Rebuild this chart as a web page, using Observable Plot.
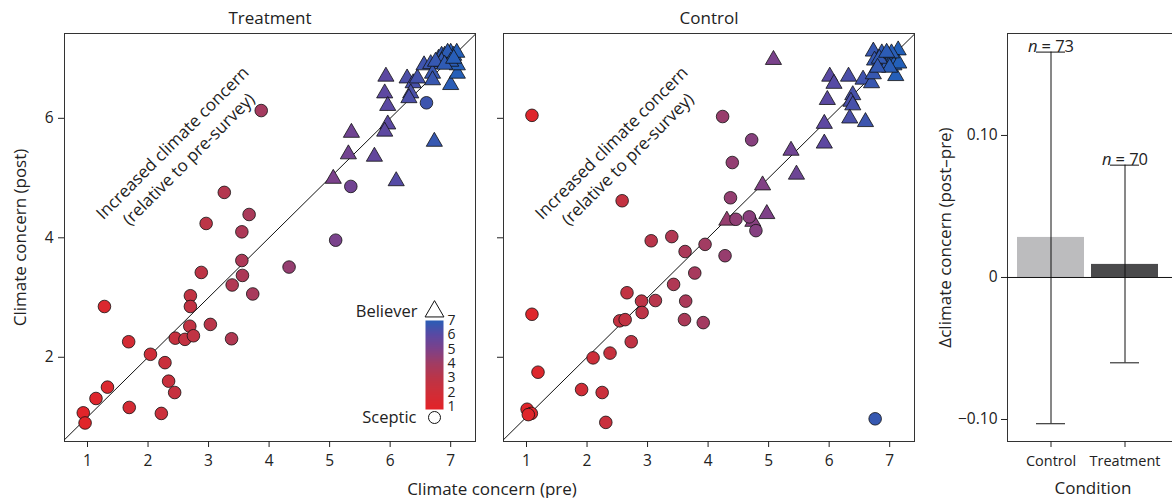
<!DOCTYPE html>
<html><head><meta charset="utf-8">
<script src="https://cdn.jsdelivr.net/npm/d3@7"></script>
<script src="https://cdn.jsdelivr.net/npm/@observablehq/plot@0.6"></script>
<style>
body{margin:0;background:#fff;}
#root{position:relative;width:1172px;height:498px;overflow:hidden;font-family:"Open Sans",sans-serif;color:#222;}
.p{position:absolute;top:0;}
.lbl{position:absolute;font-size:17px;transform:translate(-50%,-50%);white-space:nowrap;color:#222;}
</style></head><body><div id="root"></div>
<script>
// ---------- Data ----------
const treatmentScepticPre  = [3.26,3.67,2.96,3.55,3.55,2.88,3.56,3.39,3.73,2.70,2.70,1.28,2.69,3.03,1.68,2.45,2.61,2.75,3.38,2.04,2.28,2.34,2.44,1.33,1.14,1.69,2.22,0.93,0.96,3.87,5.35,5.10,4.33,6.60];
const treatmentScepticPost = [4.76,4.39,4.24,4.10,3.62,3.42,3.37,3.21,3.06,3.03,2.85,2.85,2.52,2.55,2.26,2.32,2.30,2.36,2.31,2.05,1.91,1.60,1.41,1.50,1.31,1.16,1.06,1.07,0.90,6.13,4.86,3.96,3.51,6.26];
const treatmentBelieverPre  = [5.93,5.91,5.96,5.96,5.91,5.36,6.28,6.38,6.34,6.31,6.45,6.56,6.67,6.70,6.70,7.00,7.11,7.11,6.73,5.31,5.74,5.06,6.10,6.80,6.85,6.90,6.95,7.00,7.05,7.10,6.95,7.00,6.85,6.75,6.90,7.05];
const treatmentBelieverPost = [6.70,6.42,6.21,5.90,5.78,5.76,6.67,6.59,6.42,6.34,6.67,6.89,6.91,6.75,6.64,6.56,6.75,6.89,5.61,5.40,5.36,4.99,4.95,7.00,7.05,7.05,7.00,7.10,7.05,7.10,7.10,6.95,6.95,6.95,6.90,7.00];

const controlScepticPre  = [1.09,4.24,4.72,4.40,2.58,4.37,4.46,4.68,4.79,3.06,3.40,3.95,3.62,4.28,3.78,3.43,2.66,2.90,3.13,3.63,2.91,2.54,2.63,3.61,3.92,1.09,2.73,2.38,2.10,1.19,1.91,2.25,1.01,1.08,1.03,2.31,6.76];
const controlScepticPost = [6.05,6.03,5.64,5.26,4.62,4.67,4.31,4.35,4.12,3.95,4.02,3.89,3.77,3.70,3.41,3.22,3.08,2.94,2.95,2.94,2.75,2.61,2.63,2.63,2.58,2.72,2.26,2.07,1.99,1.75,1.46,1.41,1.13,1.06,1.04,0.91,0.97];
const controlBelieverPre  = [5.08,6.01,6.08,5.97,5.92,5.92,5.37,5.46,4.90,4.31,4.97,4.74,6.32,6.56,6.70,6.73,6.39,6.36,6.39,6.34,6.60,7.10,6.73,6.87,6.98,7.14,7.03,6.89,6.75,7.07,7.15,6.83,7.03,6.95,7.00,6.80];
const controlBelieverPost = [6.98,6.70,6.58,6.31,5.91,5.58,5.46,5.06,4.88,4.29,4.40,4.27,6.70,6.65,6.59,6.74,6.39,6.28,6.22,6.00,5.94,6.71,7.12,7.09,7.03,7.14,6.95,6.92,6.97,6.89,6.92,7.00,7.09,7.10,6.85,6.85];

const scaleTicks = [1,2,3,4,5,6,7];
const postTicks = [2,4,6];
const panelTitles = ["Treatment","Control"];
const annotationText = "Increased climate concern\n(relative to pre-survey)";
const annotationPre = 2.52, annotationPost = 5.47;

const barConditions = ["Control","Treatment"];
const barMeans = [0.0282,0.0092];
const barLower = [-0.103,-0.0601];
const barUpper = [0.1587,0.0791];
const barN = [73,70];
const barTicks = [-0.1,0,0.1];

// ---------- Settings ----------
const FONT = '"Open Sans", sans-serif';
const xDomain = [0.62, 7.41];
const yDomain = [0.59, 7.42];
const scatterColor = {type:"linear", domain:[1,2,3,4,5,6,7],
  range:["#e0252b","#cf2e38","#bb3548","#a13c63","#7d4189","#5a49a3","#2a5db6"]};
const rows = (pre, post) => pre.map((p,i)=>({pre:p, post:post[i]}));
const intFmt = d => String(d);

function scatter(title, sceptic, believer, showY, width, marginLeft, marginRight) {
  return Plot.plot({
    width, height: 498, marginLeft, marginRight, marginTop: 33, marginBottom: 57,
    style: {fontFamily: FONT, fontSize: "16px", color: "#222", background: "transparent", overflow: "visible"},
    x: {domain: xDomain, label: null},
    y: {domain: yDomain, label: null},
    color: scatterColor,
    marks: [
      Plot.frame({stroke: "#333"}),
      Plot.axisX({ticks: scaleTicks, tickSize: 6, tickPadding: 7, tickFormat: intFmt, fontSize: 15.5}),
      Plot.axisY({ticks: postTicks, tickSize: 6, tickPadding: 5, tickFormat: showY ? intFmt : () => "", fontSize: 15.5}),
      Plot.line([xDomain[0], yDomain[1]], {x: d => d, y: d => d, stroke: "#111", strokeWidth: 1, clip: true}),
      Plot.text([annotationText], {x: () => annotationPre, y: () => annotationPost, rotate: -45, fontSize: 17, lineHeight: 1.35, fill: "#222"}),
      Plot.dot(believer, {x: "pre", y: "post", fill: "pre", symbol: "triangle", r: 6, stroke: "#111", strokeWidth: 0.8}),
      Plot.dot(sceptic, {x: "pre", y: "post", fill: "pre", r: 6.3, stroke: "#111", strokeWidth: 0.8}),
      Plot.text([title], {frameAnchor: "top", lineAnchor: "middle", dy: -15, fontSize: 17, fill: "#222"}),
      showY ? Plot.text(["Climate concern (post)"], {frameAnchor: "left", textAnchor: "middle", lineAnchor: "middle", rotate: -90, dx: -44, fontSize: 17, fill: "#222"}) : null
    ]
  });
}

const root = document.getElementById("root");
function place(node, left, width) {
  const d = document.createElement("div");
  d.className = "p"; d.style.left = left + "px"; d.style.width = width + "px";
  d.appendChild(node); root.appendChild(d);
}

place(scatter(panelTitles[0], rows(treatmentScepticPre, treatmentScepticPost), rows(treatmentBelieverPre, treatmentBelieverPost), true, 480, 64, 5), 0, 480);
place(scatter(panelTitles[1], rows(controlScepticPre, controlScepticPost), rows(controlBelieverPre, controlBelieverPost), false, 440, 23, 6), 480, 440);

// colour legend
const legend = Plot.plot({
  width: 130, height: 140, marginLeft: 85, marginRight: 27, marginTop: 30, marginBottom: 21,
  style: {fontFamily: FONT, fontSize: "14px", color: "#222", background: "transparent", overflow: "visible"},
  x: {domain: [0,1], axis: null},
  y: {domain: [0.79, 7], axis: null},
  color: scatterColor,
  marks: [
    Plot.raster({fill: (x, y) => y, x1: 0, x2: 1, y1: 0.79, y2: 7, pixelSize: 1}),
    Plot.text(scaleTicks, {y: d => d, frameAnchor: "right", textAnchor: "start", lineAnchor: "middle", dx: 4, fontSize: 14, fill: "#222"}),
    Plot.dot([0], {frameAnchor: "top", dy: -9, symbol: "triangle", r: 7, fill: "white", stroke: "#111", strokeWidth: 1}),
    Plot.dot([0], {frameAnchor: "bottom", dy: 8, r: 6, fill: "white", stroke: "#111", strokeWidth: 1}),
    Plot.text(["Believer"], {frameAnchor: "top", lineAnchor: "middle", dy: -9, dx: -17, textAnchor: "end", fontSize: 16.5, fill: "#222"}),
    Plot.text(["Sceptic"], {frameAnchor: "bottom", lineAnchor: "middle", dy: 8, dx: -18, textAnchor: "end", fontSize: 16.5, fill: "#222"})
  ]
});
const lg = document.createElement("div");
lg.className = "p"; lg.style.left = "340px"; lg.style.top = "290px"; lg.style.width = "130px";
lg.appendChild(legend); root.appendChild(lg);

// bar chart
const bars = barConditions.map((c,i)=>({condition:c, mean:barMeans[i], lower:barLower[i], upper:barUpper[i], n:barN[i]}));
const barPlot = Plot.plot({
  width: 262, height: 498, marginLeft: 77, marginRight: 2, marginTop: 33, marginBottom: 57,
  style: {fontFamily: FONT, fontSize: "16px", color: "#222", background: "transparent", overflow: "visible"},
  x: {type: "band", domain: barConditions, range: [77, 238], paddingInner: 0.095, paddingOuter: 0.135, label: null},
  y: {domain: [-0.1155, 0.1718], label: null},
  color: {domain: barConditions, range: ["#bcbcbe", "#4a4a4c"]},
  marks: [
    Plot.frame({stroke: "#333"}),
    Plot.axisX({tickSize: 6, tickPadding: 8, fontSize: 14.5}),
    Plot.axisY({ticks: barTicks, tickSize: 6, tickPadding: 4, fontSize: 15.5,
      tickFormat: d => d === 0 ? "0" : (d < 0 ? "\u2212" : "") + Math.abs(d).toFixed(2)}),
    Plot.barY(bars, {x: "condition", y: "mean", fill: "condition"}),
    Plot.ruleY([0], {stroke: "#111"}),
    Plot.ruleX(bars, {x: "condition", y1: "lower", y2: "upper", stroke: "#111"}),
    Plot.tickY(bars, {x: "condition", y: "upper", insetLeft: 19, insetRight: 19, stroke: "#111"}),
    Plot.tickY(bars, {x: "condition", y: "lower", insetLeft: 19, insetRight: 19, stroke: "#111"}),
    Plot.text(bars, {x: "condition", y: "upper", text: () => "n", fontStyle: "italic", textAnchor: "start", dx: -23, lineAnchor: "bottom", dy: 0, fontSize: 16.5, fill: "#222"}),
    Plot.text(bars, {x: "condition", y: "upper", text: d => "= " + d.n, textAnchor: "end", dx: 23, lineAnchor: "bottom", dy: 0, fontSize: 16.5, fill: "#222"}),
    Plot.text(["\u0394climate concern (post\u2013pre)"], {frameAnchor: "left", textAnchor: "middle", lineAnchor: "middle", rotate: -90, dx: -62, fontSize: 17, fill: "#222"}),
    Plot.text(["Condition"], {frameAnchor: "bottom", lineAnchor: "middle", dy: 47, dx: -6, fontSize: 17, fill: "#222"})
  ]
});
place(barPlot, 930, 262);

const xl = document.createElement("div");
xl.className = "lbl"; xl.style.left = "492px"; xl.style.top = "488px";
xl.textContent = "Climate concern (pre)";
root.appendChild(xl);
</script></body></html>
